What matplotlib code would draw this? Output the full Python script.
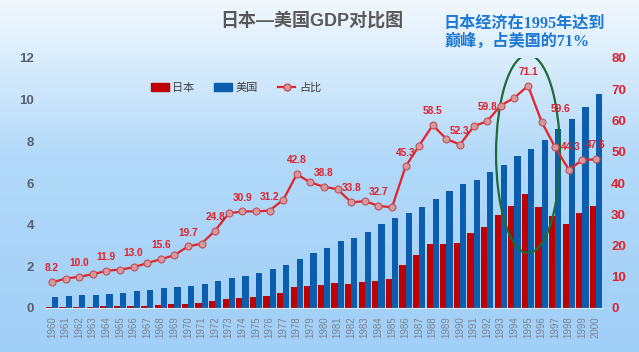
import matplotlib
matplotlib.use('Agg')
import matplotlib.pyplot as plt
from matplotlib.patches import Ellipse, Patch
from matplotlib.lines import Line2D
from matplotlib.colors import LinearSegmentedColormap
import numpy as np

plt.rcParams['font.family'] = ['Liberation Sans', 'Noto Sans CJK SC']

# ── 数据 ──────────────────────────────────────────────────────────────
years = [str(y) for y in range(1960, 2001)]
japan = [0.04, 0.05, 0.06, 0.07, 0.08, 0.09, 0.11, 0.12, 0.15, 0.17,
         0.21, 0.24, 0.32, 0.43, 0.48, 0.52, 0.59, 0.72, 1.02, 1.06,
         1.11, 1.22, 1.13, 1.24, 1.32, 1.40, 2.08, 2.53, 3.07, 3.05,
         3.13, 3.58, 3.91, 4.45, 4.91, 5.45, 4.83, 4.41, 4.03, 4.56, 4.89]
usa = [0.54, 0.56, 0.61, 0.64, 0.69, 0.74, 0.82, 0.86, 0.94, 1.02,
       1.07, 1.17, 1.28, 1.43, 1.55, 1.69, 1.87, 2.08, 2.35, 2.63,
       2.86, 3.21, 3.34, 3.63, 4.04, 4.34, 4.58, 4.86, 5.24, 5.64,
       5.96, 6.16, 6.52, 6.86, 7.29, 7.64, 8.07, 8.58, 9.06, 9.63, 10.25]
ratio = [8.2, 9.4, 10.0, 10.8, 11.9, 12.3, 13.0, 14.4, 15.6, 16.9,
         19.7, 20.6, 24.8, 30.3, 30.9, 30.9, 31.2, 34.6, 42.8, 40.2,
         38.8, 38.0, 33.8, 34.2, 32.7, 32.2, 45.3, 52.0, 58.5, 54.1,
         52.3, 58.1, 59.8, 64.8, 67.3, 71.1, 59.6, 51.4, 44.3, 47.3, 47.6]
label_years = ['1960', '1962', '1964', '1966', '1968', '1970', '1972', '1974',
               '1976', '1978', '1980', '1982', '1984', '1986', '1988', '1990',
               '1992', '1995', '1996', '1998', '2000']

RED = '#c00000'
BLUE = '#0a5ead'
LINE = '#e3222b'
LABEL = '#e0202a'

fig = plt.figure(figsize=(6.39, 3.52), dpi=100)

# ── 渐变背景 ──────────────────────────────────────────────────────────
bg = fig.add_axes([0, 0, 1, 1])
bg.set_zorder(-1)
cmap = LinearSegmentedColormap.from_list(
    'bg', [(0, '#f1f8fe'), (0.45, '#b2d9f9'), (1, '#a0cff7')])
grad = np.linspace(0, 1, 256).reshape(-1, 1)
bg.imshow(grad, aspect='auto', cmap=cmap, extent=[0, 1, 0, 1], origin='upper')
bg.axis('off')

# ── 柱状图 ────────────────────────────────────────────────────────────
ax = fig.add_axes([45.2 / 639, 44 / 352, 557.6 / 639, 250 / 352])
ax.set_facecolor('none')
x = np.arange(len(years))
w = 0.45
ax.bar(x - w / 2, japan, width=w, color=RED, linewidth=0)
ax.bar(x + w / 2, usa, width=w, color=BLUE, linewidth=0)
ax.set_xlim(-0.5, len(years) - 0.5)
ax.set_ylim(0, 12)
ax.set_yticks(range(0, 13, 2))
ax.set_xticks(x)
ax.set_xticklabels(years, rotation=90, fontsize=7, color='#7d8390')
ax.tick_params(axis='x', length=0, pad=6)
ax.tick_params(axis='y', length=0, pad=8, labelsize=9.5, labelcolor='#56606e')
for lab in ax.get_yticklabels():
    lab.set_fontweight('bold')
for s in ['top', 'left', 'right']:
    ax.spines[s].set_visible(False)
ax.spines['bottom'].set_color('#d6e6f4')

# ── 占比折线 ──────────────────────────────────────────────────────────
ax2 = ax.twinx()
ax2.plot(x, ratio, color=LINE, linewidth=1.6, marker='o', markersize=5,
         markerfacecolor='#d8989c', markeredgecolor='#c0505a',
         markeredgewidth=0.8)
ax2.set_ylim(0, 80)
ax2.set_yticks(range(0, 81, 10))
ax2.tick_params(axis='y', length=0, pad=6, labelsize=9.5, labelcolor=LABEL)
for lab in ax2.get_yticklabels():
    lab.set_fontweight('bold')
for s in ['top', 'left', 'right', 'bottom']:
    ax2.spines[s].set_visible(False)

offsets = {'1996': (14, 9.5), '1998': (1, 16)}
for yr in label_years:
    i = years.index(yr)
    dx, dy = offsets.get(yr, (0, 10))
    arrow = dict(arrowstyle='-', color='#a0a0a0', lw=0.6,
                 shrinkA=4, shrinkB=3) if yr == '1996' else None
    ax2.annotate(f'{ratio[i]:.1f}', (i, ratio[i]), xytext=(dx, dy),
                 textcoords='offset points', ha='center', va='center',
                 fontsize=7.3, fontweight='bold', color=LABEL,
                 arrowprops=arrow)

# ── 椭圆标注 ──────────────────────────────────────────────────────────
ax2.add_patch(Ellipse((years.index('1995'), 49.3), width=4.7, height=63.4,
                      fill=False, edgecolor='#1d6b34', linewidth=1.6))

# ── 标题与说明 ────────────────────────────────────────────────────────
fig.text(312 / 639, 1 - 21 / 352, '日本—美国GDP对比图', ha='center',
         va='center', fontsize=13, fontweight='bold', color='#595959')
fig.text(444 / 639, 1 - 33 / 352, '日本经济在1995年达到\n巅峰，占美国的71%',
         ha='left', va='center', fontsize=11.6, fontweight='bold',
         color='#1c78d4', linespacing=1.15,
         family=['Liberation Serif', 'Noto Sans CJK SC'])

# ── 图例 ──────────────────────────────────────────────────────────────
handles = [Patch(color=RED), Patch(color=BLUE),
           Line2D([], [], color=LINE, linewidth=1.6, marker='o', markersize=5,
                  markerfacecolor='#d8989c', markeredgecolor='#c0505a')]
fig.legend(handles, ['日本', '美国', '占比'], loc='center',
           bbox_to_anchor=(236 / 639, 1 - 88 / 352), ncol=3, frameon=False,
           fontsize=8, labelcolor='#404040', handlelength=1.6,
           handletextpad=0.3, columnspacing=1.8)

fig.savefig('out.png', dpi=100)
